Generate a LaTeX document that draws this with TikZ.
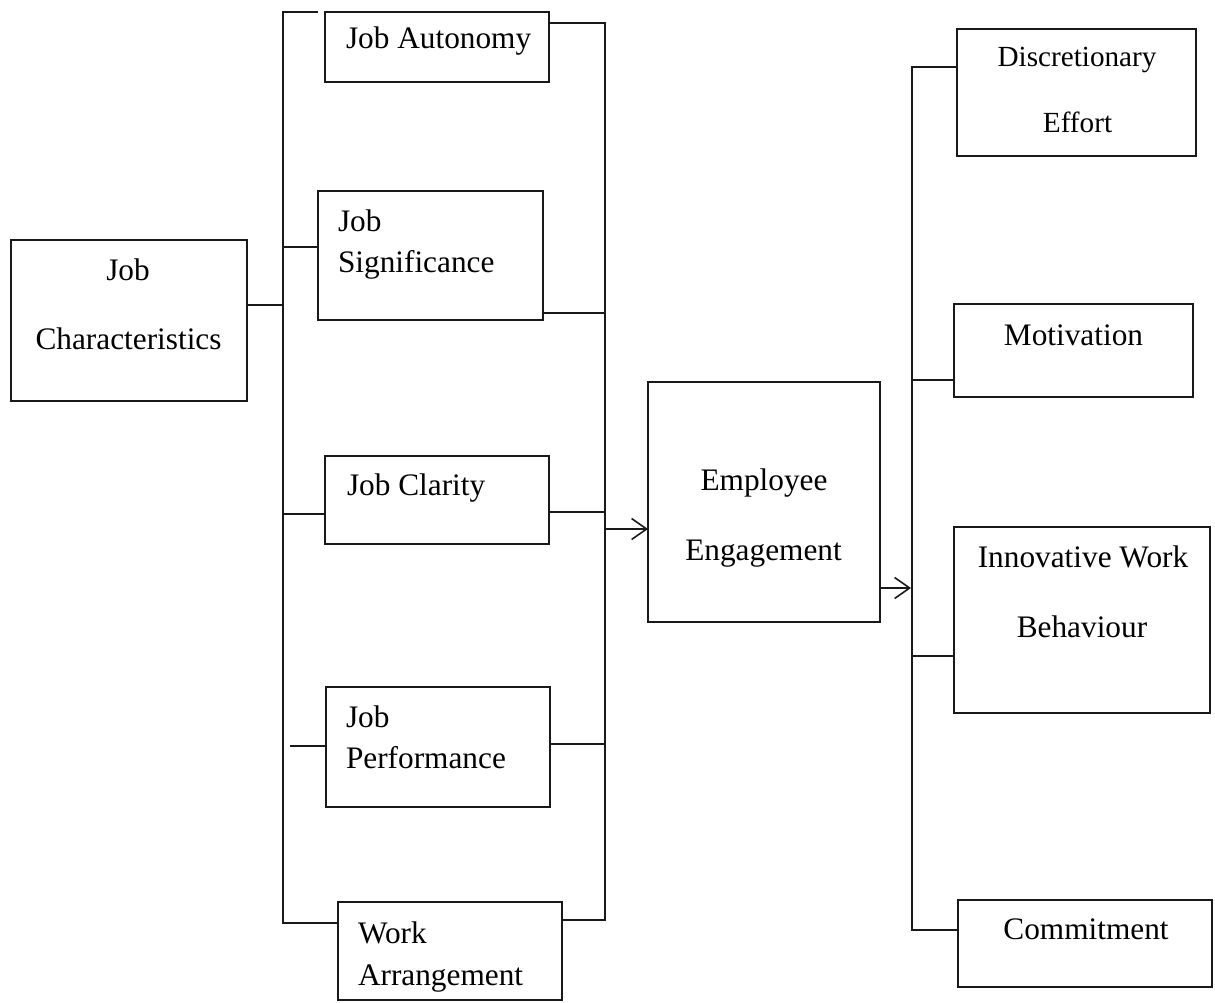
\documentclass[tikz,border=0pt]{standalone}
\usepackage{fontspec}
\setmainfont{Liberation Serif}
\usetikzlibrary{arrows.meta}
\tikzset{
  box/.style={draw=black!90, line width=1.6pt, inner sep=0pt, outer sep=0pt, rectangle},
  lbl/.style={inner sep=0pt, outer sep=0pt, font=\fontsize{31.3}{36}\selectfont},
  lblsm/.style={inner sep=0pt, outer sep=0pt, font=\fontsize{29.2}{34}\selectfont},
  conn/.style={draw=black!90, line width=1.6pt},
  arr/.style={conn, -{Straight Barb[length=15pt,width=21pt,line width=1.6pt]}}
}
\begin{document}
\begin{tikzpicture}[x=1pt,y=-1pt]
\useasboundingbox (0,0) rectangle (1215,1002);
% boxes
\node[box, minimum width=236pt, minimum height=161pt] (jc) at (129,320.5) {};
\node[box, minimum width=224pt, minimum height=70pt] (ja) at (437,47) {};
\node[box, minimum width=225pt, minimum height=129pt] (js) at (430.5,255.5) {};
\node[box, minimum width=224pt, minimum height=88pt] (jcl) at (437,500) {};
\node[box, minimum width=224pt, minimum height=120pt] (jp) at (438,747) {};
\node[box, minimum width=224pt, minimum height=98pt] (wa) at (450,951) {};
\node[box, minimum width=232pt, minimum height=240pt] (ee) at (764,502) {};
\node[box, minimum width=239pt, minimum height=127pt] (de) at (1076.5,92.5) {};
\node[box, minimum width=239pt, minimum height=93pt] (mo) at (1073.5,350.5) {};
\node[box, minimum width=256pt, minimum height=186pt] (iwb) at (1082,620) {};
\node[box, minimum width=254pt, minimum height=87pt] (co) at (1085,943.5) {};
% texts
\node[lbl, anchor=base] (jct1) at (128,280) {Job};
\node[lbl, anchor=base] (jct2) at (128.5,349) {Characteristics};
\node[lbl, anchor=base west] (jat) at (346,48) {Job Autonomy};
\node[lbl, anchor=base west] (jst1) at (338,231) {Job};
\node[lbl, anchor=base west] (jst2) at (338,272) {Significance};
\node[lbl, anchor=base west] (jclt) at (347,495) {Job Clarity};
\node[lbl, anchor=base west] (jpt1) at (346,727) {Job};
\node[lbl, anchor=base west] (jpt2) at (346,768) {Performance};
\node[lbl, anchor=base west] (wat1) at (358,943) {Work};
\node[lbl, anchor=base west] (wat2) at (358,985) {Arrangement};
\node[lbl, anchor=base] (eet1) at (764,490) {Employee};
\node[lbl, anchor=base] (eet2) at (763.5,560) {Engagement};
\node[lblsm, anchor=base] (det1) at (1077,66) {Discretionary};
\node[lblsm, anchor=base] (det2) at (1077.5,132) {Effort};
\node[lbl, anchor=base] (mot) at (1073.5,345) {Motivation};
\node[lbl, anchor=base] (iwbt1) at (1083,567) {Innovative Work};
\node[lbl, anchor=base] (iwbt2) at (1082,637) {Behaviour};
\node[lbl, anchor=base] (cot) at (1086,939) {Commitment};
% left bus
\coordinate (L0) at (318,12);
\coordinate (L1) at (283,12);
\coordinate (L2) at (283,923);
\coordinate (Lj) at (283,305);
\coordinate (Ls) at (283,247);
\coordinate (Lc) at (283,514);
\coordinate (Lp) at (290,746);
\draw[conn] (L0) -- (L1) -- (L2) -- (L2 -| wa.west);
\draw[conn] (Lj -| jc.east) -- (Lj);
\draw[conn] (Ls) -- (Ls -| js.west);
\draw[conn] (Lc) -- (Lc -| jcl.west);
\draw[conn] (Lp) -- (Lp -| jp.west);
% right bus
\coordinate (R0) at (605,23);
\coordinate (R1) at (605,920);
\coordinate (Rs) at (605,313);
\coordinate (Rc) at (605,512);
\coordinate (Rp) at (605,744);
\coordinate (Ra) at (605,529);
\draw[conn] (R0 -| ja.east) -- (R0) -- (R1) -- (R1 -| wa.east);
\draw[conn] (Rs -| js.east) -- (Rs);
\draw[conn] (Rc -| jcl.east) -- (Rc);
\draw[conn] (Rp -| jp.east) -- (Rp);
\draw[arr] (Ra) -- (Ra -| ee.west);
% outcome bus
\coordinate (B0) at (912,67);
\coordinate (B1) at (912,930);
\coordinate (Bm) at (912,380);
\coordinate (Bi) at (912,656);
\coordinate (Ea) at (911,588);
\draw[conn] (B0 -| de.west) -- (B0) -- (B1) -- (B1 -| co.west);
\draw[conn] (Bm) -- (Bm -| mo.west);
\draw[conn] (Bi) -- (Bi -| iwb.west);
\draw[arr] (Ea -| ee.east) -- (Ea);
\end{tikzpicture}
\end{document}
